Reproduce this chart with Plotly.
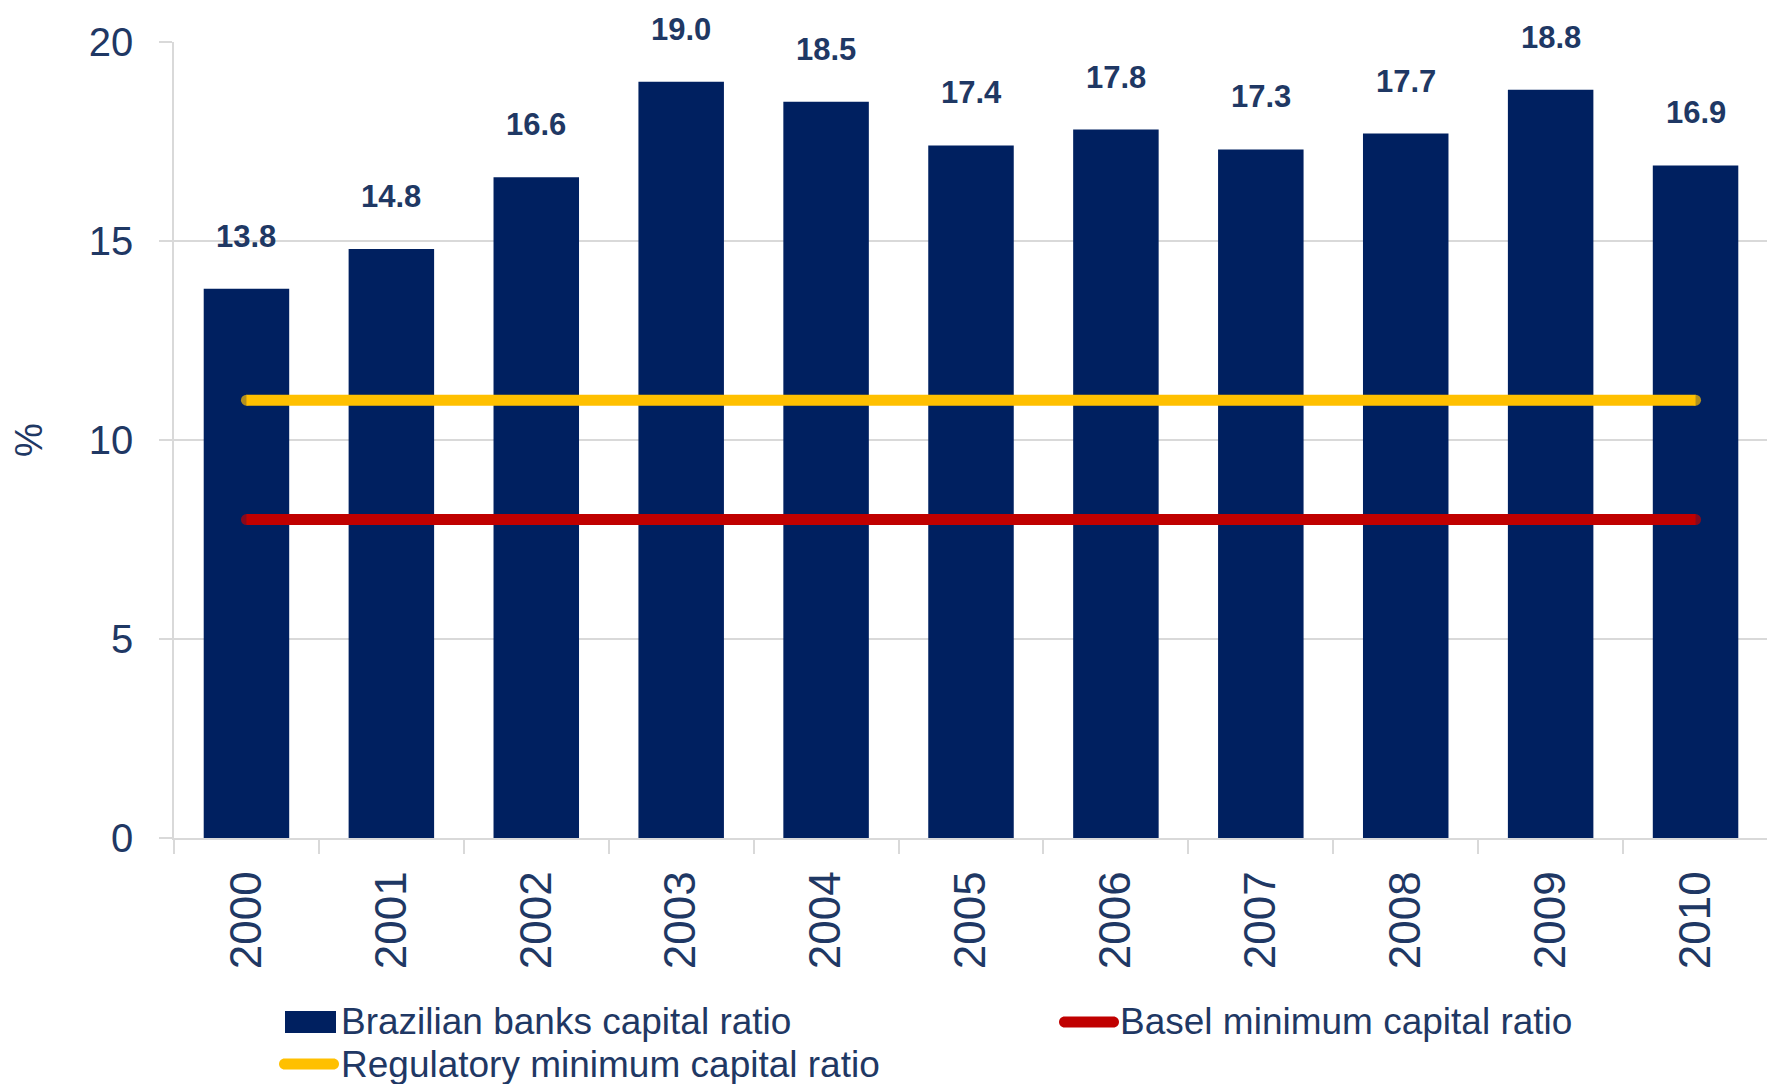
import plotly.graph_objects as go

years = ["2000", "2001", "2002", "2003", "2004", "2005", "2006", "2007", "2008", "2009", "2010"]
brazil_ratio = [13.8, 14.8, 16.6, 19.0, 18.5, 17.4, 17.8, 17.3, 17.7, 18.8, 16.9]
regulatory_min = [11] * len(years)
basel_min = [8] * len(years)
y_ticks = [0, 5, 10, 15, 20]

NAVY_BAR = "#002060"
TEXT = "#1F3864"
YELLOW = "#FFC000"
RED = "#C00000"
GRID = "#D9D9D9"
FONT = "Liberation Sans, Arial, sans-serif"
LW = 11

# page body has an 8px margin: the figure starts at (8, 8) in the screenshot
OFF = 8
W, H = 1775 - OFF, 1084 - OFF
PL, PR, PT, PB = 174, 1768, 42, 838  # plot area in screenshot pixels

# round line caps: a dot only at the two ends of each line
cap_sizes = [LW] + [0] * (len(years) - 2) + [LW]

fig = go.Figure()
fig.add_trace(go.Bar(x=years, y=brazil_ratio, name="Brazilian banks capital ratio",
                     marker=dict(color=NAVY_BAR, line=dict(width=0)), showlegend=False))
fig.add_trace(go.Scatter(x=years, y=regulatory_min, mode="lines+markers", name="Regulatory minimum capital ratio",
                         line=dict(color=YELLOW, width=LW),
                         marker=dict(color=YELLOW, size=cap_sizes, line=dict(width=0)), showlegend=False))
fig.add_trace(go.Scatter(x=years, y=basel_min, mode="lines+markers", name="Basel minimum capital ratio",
                         line=dict(color=RED, width=LW),
                         marker=dict(color=RED, size=cap_sizes, line=dict(width=0)), showlegend=False))

# data labels
for i, v in enumerate(brazil_ratio):
    fig.add_annotation(x=i, y=v, xref="x", yref="y", text=f"<b>{v:.1f}</b>", showarrow=False,
                       yanchor="bottom", yshift=33,
                       font=dict(family=FONT, size=31, color=TEXT))


def px_x(p):
    return (p - PL) / (PR - PL)


def px_y(p):
    return (PB - p) / (PB - PT)


def capsule(cx, cy, length, thick, color):
    r = thick / 2
    L = length / 2 - r
    k = 0.5523 * r
    path = (f"M {-L},{-r} L {L},{-r} C {L + k},{-r} {L + r},{-k} {L + r},0 "
            f"C {L + r},{k} {L + k},{r} {L},{r} L {-L},{r} "
            f"C {-L - k},{r} {-L - r},{k} {-L - r},0 "
            f"C {-L - r},{-k} {-L - k},{-r} {-L},{-r} Z")
    return dict(type="path", xref="paper", yref="paper", xsizemode="pixel", ysizemode="pixel",
                xanchor=px_x(cx), yanchor=px_y(cy), path=path,
                fillcolor=color, line=dict(width=0))


shapes = [
    dict(type="rect", xref="paper", yref="paper", x0=px_x(285), x1=px_x(336), y0=px_y(1033), y1=px_y(1011),
         fillcolor=NAVY_BAR, line=dict(width=0)),
    capsule(309, 1064, 60, 11, YELLOW),
    capsule(1089, 1022, 60, 11, RED),
]
legend_items = [
    ("Brazilian banks capital ratio", 339, 1022),
    ("Basel minimum capital ratio", 1118, 1022),
    ("Regulatory minimum capital ratio", 339, 1064),
]
for txt, lx, ly in legend_items:
    fig.add_annotation(xref="paper", yref="paper", x=px_x(lx), y=px_y(ly), text=txt, showarrow=False,
                       xanchor="left", yanchor="middle",
                       font=dict(family=FONT, size=37, color=TEXT))

fig.update_layout(
    width=W, height=H,
    margin=dict(l=PL - OFF, r=(1775 - PR), t=PT - OFF, b=H - (PB - OFF), autoexpand=False),
    paper_bgcolor="white", plot_bgcolor="white",
    bargap=0.41,
    shapes=shapes,
    font=dict(family=FONT, color=TEXT),
    xaxis=dict(type="category", range=[-0.5, len(years) - 0.5], automargin=False,
               tickangle=-90, tickfont=dict(family=FONT, size=44, color=TEXT),
               showgrid=False, showline=True, linecolor=GRID, linewidth=1.5,
               ticks="outside", tickson="boundaries", ticklen=14, tickcolor=GRID, tickwidth=1.5,
               ticklabelstandoff=14),
    yaxis=dict(range=[0, 20], tickvals=y_ticks, automargin=False,
               tickfont=dict(family=FONT, size=40, color=TEXT),
               showgrid=True, gridcolor=GRID, gridwidth=1.5, zeroline=False,
               showline=True, linecolor=GRID, linewidth=1.5,
               ticks="outside", ticklen=13, tickcolor=GRID, tickwidth=1.5,
               ticklabelstandoff=18,
               title=dict(text="%", font=dict(family=FONT, size=38, color=TEXT), standoff=40)),
)

fig.write_html("out.html")
